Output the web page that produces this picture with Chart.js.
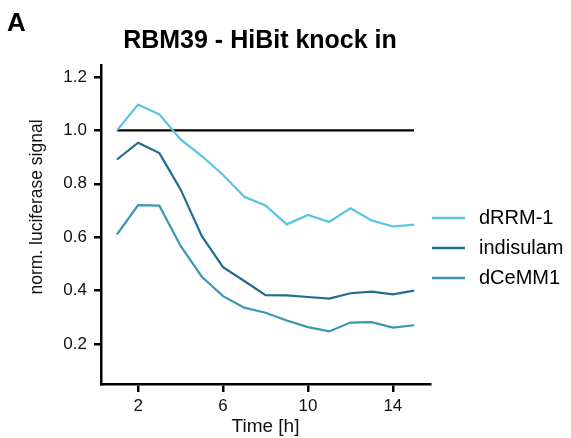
<!DOCTYPE html>
<html>
<head>
<meta charset="utf-8">
<script src="https://cdn.jsdelivr.net/npm/chart.js@4.4.1/dist/chart.umd.min.js"></script>
<style>
  html, body { margin: 0; padding: 0; background: #fff; }
  #wrap { width: 571px; height: 438px; }
</style>
</head>
<body>
<div id="wrap"><canvas id="chart" width="571" height="438"></canvas></div>
<script>
// time points (h)
const hours = [1, 2, 3, 4, 5, 6, 7, 8, 9, 10, 11, 12, 13, 14, 15];

const dRRM1     = [1.00, 1.097, 1.06, 0.966, 0.904, 0.833, 0.751, 0.719, 0.648, 0.683, 0.657, 0.708, 0.663, 0.640, 0.647];
const indisulam = [0.891, 0.954, 0.915, 0.779, 0.604, 0.488, 0.436, 0.383, 0.382, 0.376, 0.370, 0.390, 0.396, 0.386, 0.400];
const dCeMM1    = [0.610, 0.720, 0.718, 0.567, 0.452, 0.379, 0.336, 0.317, 0.288, 0.263, 0.247, 0.280, 0.282, 0.261, 0.270];

const seriesNames = ['dRRM-1', 'indisulam', 'dCeMM1'];
const refLevel = 1.0;

const xTicks = [2, 6, 10, 14];
const yTicks = [0.2, 0.4, 0.6, 0.8, 1.0, 1.2];

const colors = ['#58c3e8', '#1f6e8f', '#3b97b3'];
const FONT = "'Liberation Sans', Arial, sans-serif";

const toPoints = (vals) => vals.map((v, i) => ({ x: hours[i], y: v }));

// title, panel letter, y title and legend drawn on top of the chart
const decorations = {
    id: 'decorations',
    afterDraw(chart) {
        const ctx = chart.ctx;
        ctx.save();
        ctx.fillStyle = '#000';
        ctx.textBaseline = 'middle';

        ctx.font = 'bold 26px ' + FONT;
        ctx.textAlign = 'left';
        ctx.fillText('A', 7, 24);

        ctx.font = 'bold 25px ' + FONT;
        ctx.textAlign = 'center';
        ctx.fillText('RBM39 - HiBit knock in', 260, 41);

        // y axis title sits a bit above the axis centre in the original
        ctx.save();
        ctx.translate(37, 207);
        ctx.rotate(-Math.PI / 2);
        ctx.font = '17.5px ' + FONT;
        ctx.fillStyle = '#111';
        ctx.fillText('norm. luciferase signal', 0, 0);
        ctx.restore();

        // legend
        ctx.font = '20px ' + FONT;
        ctx.textAlign = 'left';
        const rows = [218, 248, 278];
        chart.data.datasets.forEach((ds) => {
            if (ds.isReference) return;
            const idx = seriesNames.indexOf(ds.label);
            const y = rows[idx];
            ctx.strokeStyle = ds.borderColor;
            ctx.lineWidth = 2.5;
            ctx.beginPath();
            ctx.moveTo(432, y);
            ctx.lineTo(465, y);
            ctx.stroke();
            ctx.fillStyle = '#000';
            ctx.fillText(ds.label, 479, y);
        });
        ctx.restore();
    }
};

const seriesData = [dRRM1, indisulam, dCeMM1];

const datasets = seriesNames.map((name, i) => ({
    label: name,
    data: toPoints(seriesData[i]),
    borderColor: colors[i],
    borderWidth: 2.2,
    pointRadius: 0,
    tension: 0,
    fill: false
}));

datasets.push({
    label: 'reference',
    isReference: true,
    data: [{ x: hours[0], y: refLevel }, { x: hours[hours.length - 1], y: refLevel }],
    borderColor: '#000',
    borderWidth: 2.2,
    pointRadius: 0,
    fill: false
});

new Chart(document.getElementById('chart'), {
    type: 'line',
    data: { datasets: datasets },
    options: {
        responsive: false,
        animation: false,
        layout: { padding: { top: 65, right: 141, bottom: 0, left: 0 } },
        plugins: {
            legend: { display: false },
            title: { display: false },
            tooltip: { enabled: false }
        },
        scales: {
            x: {
                type: 'linear',
                min: 0.25,
                max: 15.75,
                afterBuildTicks: (scale) => { scale.ticks = xTicks.map(v => ({ value: v })); },
                afterFit: (scale) => { scale.height = 54; },
                border: { display: true, color: '#000', width: 2.5 },
                grid: { drawOnChartArea: false, drawTicks: true, tickLength: 8, color: '#000', lineWidth: 2.5 },
                ticks: { color: '#111', font: { family: FONT, size: 17 }, padding: 4, maxRotation: 0 },
                title: { display: true, text: 'Time [h]', color: '#111', font: { family: FONT, size: 19 }, padding: { top: 0, bottom: 0 } }
            },
            y: {
                type: 'linear',
                min: 0.05,
                max: 1.245,
                afterBuildTicks: (scale) => { scale.ticks = yTicks.map(v => ({ value: v })); },
                afterFit: (scale) => { scale.width = 101; },
                border: { display: true, color: '#000', width: 2.5 },
                grid: { drawOnChartArea: false, drawTicks: true, tickLength: 7, color: '#000', lineWidth: 2.5 },
                ticks: { color: '#111', font: { family: FONT, size: 17 }, padding: 7, callback: (v) => v.toFixed(1) },
                title: { display: false }
            }
        }
    },
    plugins: [decorations]
});
</script>
</body>
</html>
